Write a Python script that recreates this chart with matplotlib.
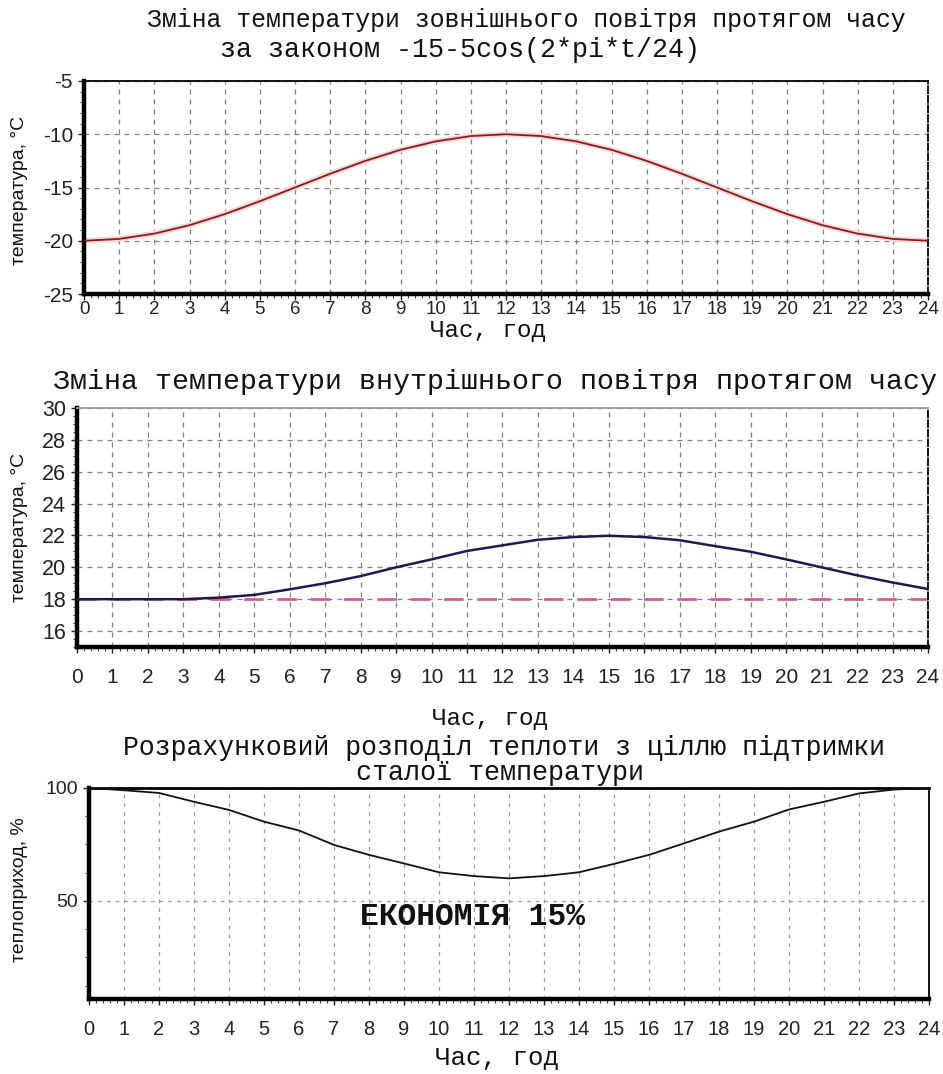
import matplotlib
matplotlib.use("Agg")
import matplotlib.pyplot as plt
from matplotlib.ticker import MultipleLocator
from matplotlib import font_manager

plt.rcParams["axes.unicode_minus"] = False

# ---------------- data ----------------
hours = list(range(0, 25))
hour_labels = [str(h) for h in hours]

outdoor_temp = [-20.0, -19.83, -19.33, -18.54, -17.5, -16.29, -15.0, -13.71, -12.5,
                -11.46, -10.67, -10.17, -10.0, -10.17, -10.67, -11.46, -12.5, -13.71,
                -15.0, -16.29, -17.5, -18.54, -19.33, -19.83, -20.0]

indoor_temp = [18.0, 18.0, 18.0, 18.0, 18.1, 18.27, 18.62, 19.0, 19.45, 20.0, 20.5,
               21.03, 21.38, 21.73, 21.9, 21.98, 21.9, 21.7, 21.33, 20.98, 20.5, 20.0,
               19.5, 19.05, 18.64]
indoor_const = [18.0] * 25

heat_share = [100.0, 99.0, 97.8, 93.9, 90.3, 85.1, 81.2, 74.8, 70.4, 66.6, 62.7, 61.0,
              60.0, 61.0, 62.7, 66.4, 70.4, 75.5, 80.7, 85.1, 90.5, 93.9, 97.6, 99.3, 100.0]

title1a = "Зміна температури зовнішнього повітря протягом часу"
title1b = "за законом -15-5cos(2*pi*t/24)"
title2 = "Зміна температури внутрішнього повітря протягом часу"
title3a = "Розрахунковий розподіл теплоти з ціллю підтримки"
title3b = "сталої температури"
xlab = "Час, год"
ylab_t = "температура, °С"
ylab_q = "теплоприход, %"
note = "ЕКОНОМІЯ 15%"

# ---------------- fonts ----------------
avail = {f.name for f in font_manager.fontManager.ttflist}
def pick(*names):
    for n in names:
        if n in avail:
            return n
    return "DejaVu Sans"
MONO = pick("Liberation Mono", "DejaVu Sans Mono")
SANS = pick("Liberation Sans", "DejaVu Sans")
NARROW = pick("Liberation Sans Narrow", "Liberation Sans", "DejaVu Sans")

W, H = 943, 1074
fig = plt.figure(figsize=(W / 100, H / 100), dpi=100)
fig.patch.set_facecolor("white")

def rect(x0, y0, x1, y1):
    return [x0 / W, 1 - y1 / H, (x1 - x0) / W, (y1 - y0) / H]

def ftext(x, y, s, size, family=MONO, style="normal", weight="normal", rot=0, ha="center"):
    fig.text(x / W, 1 - y / H, s, fontsize=size, family=family, style=style,
             weight=weight, rotation=rot, ha=ha, va="center", color="#111")

def style_axes(ax, ylo, yhi, yticks, ymin_step, xsize, ysize, tickfont, xpad,
               grid_color="#808080", dash=(0, (4, 4)), right_ls="--"):
    ax.set_xlim(0, 24)
    ax.set_ylim(ylo, yhi)
    ax.set_xticks(hours)
    ax.set_xticklabels(hour_labels)
    ax.set_yticks(yticks)
    ax.xaxis.set_minor_locator(MultipleLocator(0.2))
    ax.yaxis.set_minor_locator(MultipleLocator(ymin_step))
    ax.tick_params(axis="both", which="major", direction="out", length=4, width=1,
                   colors="#222")
    ax.tick_params(axis="x", which="major", labelsize=xsize, pad=xpad)
    ax.tick_params(axis="y", which="major", labelsize=ysize, pad=4)
    ax.tick_params(axis="both", which="minor", direction="out", length=3, width=0.8,
                   colors="#444")
    for lab in ax.get_xticklabels() + ax.get_yticklabels():
        lab.set_family(tickfont)
    ax.grid(True, which="major", color=grid_color, lw=0.9, ls=dash)
    ax.spines["left"].set_linewidth(3.2)
    ax.spines["bottom"].set_linewidth(3.2)
    ax.spines["top"].set_linewidth(1.3)
    ax.spines["right"].set_linewidth(1.3)
    ax.spines["right"].set_linestyle(right_ls)
    ax.set_axisbelow(True)

# ---------------- panel 1 ----------------
ax1 = fig.add_axes(rect(84, 81, 928, 294))
ax1.plot(hours, outdoor_temp, color="#f7d6d6", lw=4, solid_capstyle="butt", zorder=2)
ax1.plot(hours, outdoor_temp, color="#8a1c1c", lw=1.3, zorder=3)
style_axes(ax1, -25, -5, [-25, -20, -15, -10, -5], 1, 13.5, 15, NARROW, xpad=1)
for lab in ax1.get_yticklabels():
    lab.set_family(SANS)

ftext(526, 20, title1a, 17.9)
ftext(460, 50, title1b, 19.3)
ftext(488, 330, xlab, 17.5)
ftext(20, 190, ylab_t, 14, family=SANS, rot=90)

# ---------------- panel 2 ----------------
ax2 = fig.add_axes(rect(77, 408, 928, 647))
ax2.plot(hours, indoor_const, color="#d35c98", lw=2.0, ls=(0, (7, 5)), zorder=2)
ax2.plot(hours, indoor_temp, color="#1c1c4c", lw=1.8, zorder=3)
style_axes(ax2, 15, 30, list(range(16, 31, 2)), 0.5, 15, 15.5, SANS, xpad=11)
ax2.spines["top"].set_color("#999")

ftext(495, 382, title2, 20.3)
ftext(490, 718, xlab, 17.5)
ftext(20, 527, ylab_t, 14, family=SANS, rot=90)

# ---------------- panel 3 ----------------
ax3 = fig.add_axes(rect(89, 788, 929, 999))
ax3.plot(hours, heat_share, color="#111", lw=1.3, zorder=3)
style_axes(ax3, 6.6, 100, [50, 100], 12.5, 14.5, 14, NARROW, xpad=11,
           grid_color="#9a9a9a", dash=(0, (3, 4)), right_ls="-")
ax3.spines["top"].set_linewidth(2)
ax3.text(7.75, 43, note, fontsize=22.5, family=MONO, weight="bold", ha="left",
         va="center", color="#111")

ftext(504, 748, title3a, 19.1)
ftext(500, 773, title3b, 19.3)
ftext(497, 1058, xlab, 18.5)
ftext(20, 890, ylab_q, 14, family=SANS, rot=90)

fig.savefig("out.png", dpi=100, facecolor="white")
